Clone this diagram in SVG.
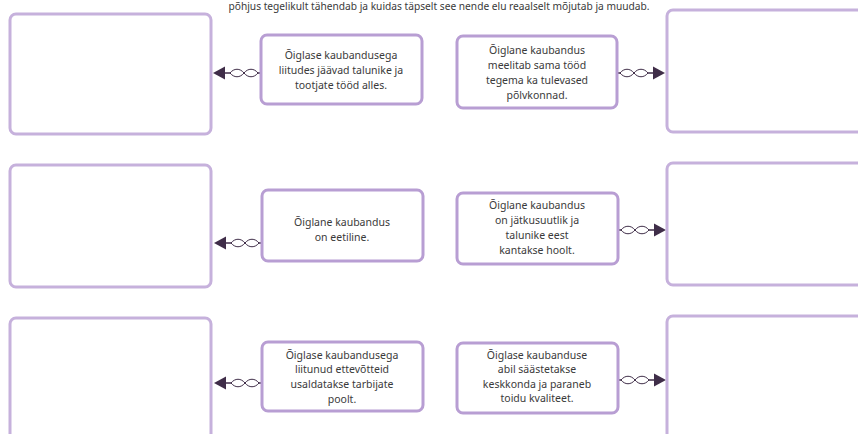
<svg xmlns="http://www.w3.org/2000/svg" width="858" height="434" viewBox="0 0 858 434">
<style>
.big{fill:#fff;stroke:#c6b1dc;stroke-width:3}
.small{fill:#fff;stroke:#b89ed3;stroke-width:3}
.t{font-family:"Noto Sans","Open Sans","DejaVu Sans",sans-serif;font-size:10.5px;fill:#3a3a3a;text-anchor:middle}
.title{font-family:"Noto Sans","Open Sans","DejaVu Sans",sans-serif;font-size:10.2px;fill:#3a3a3a;text-anchor:middle}
.w{fill:none;stroke:#3f2d48;stroke-width:1}
.h{fill:#3f2d48}
</style>
<defs>
<g id="conn">
<path class="w" d="M0,0 L3,0 C7,-5 13,-5 17,0 C21,5 27,5 31,0 L37,0"/>
<path class="w" d="M0,0 L3,0 C7,5 13,5 17,0 C21,-5 27,-5 31,0 L37,0"/>
<polygon class="h" points="36,-6.5 48,0 36,6.5"/>
</g>
</defs>
<text class="title" x="439" y="10">põhjus tegelikult tähendab ja kuidas täpselt see nende elu reaalselt mõjutab ja muudab.</text>
<g id="connectors">
<use href="#conn" transform="translate(261,73) scale(-1,1)"/>
<use href="#conn" transform="translate(617,73)"/>
<use href="#conn" transform="translate(262,243) scale(-1,1)"/>
<use href="#conn" transform="translate(618,230)"/>
<use href="#conn" transform="translate(262,383) scale(-1,1)"/>
<use href="#conn" transform="translate(618,380)"/>
</g>
<g id="box-l1"><rect class="big" x="10" y="14" width="201" height="120" rx="6"/></g>
<g id="box-r1"><rect class="big" x="667" y="10" width="200" height="122" rx="6"/></g>
<g id="box-l2"><rect class="big" x="10" y="165" width="201" height="122" rx="6"/></g>
<g id="box-r2"><rect class="big" x="667" y="163" width="200" height="122" rx="6"/></g>
<g id="box-l3"><rect class="big" x="10" y="318" width="201" height="130" rx="6"/></g>
<g id="box-r3"><rect class="big" x="667" y="316" width="200" height="130" rx="6"/></g>
<g id="node-a">
<rect class="small" x="261" y="35" width="161" height="69" rx="6"/>
<text class="t" x="341" y="59">Õiglase kaubandusega</text>
<text class="t" x="341" y="74">liitudes jäävad talunike ja</text>
<text class="t" x="341" y="89">tootjate tööd alles.</text>
</g>
<g id="node-b">
<rect class="small" x="457" y="36" width="160" height="72" rx="6"/>
<text class="t" x="537" y="53.5">Õiglane kaubandus</text>
<text class="t" x="537" y="68.5">meelitab sama tööd</text>
<text class="t" x="537" y="83.5">tegema ka tulevased</text>
<text class="t" x="537" y="98.5">põlvkonnad.</text>
</g>
<g id="node-c">
<rect class="small" x="262" y="190" width="161" height="71" rx="6"/>
<text class="t" x="342" y="226">Õiglane kaubandus</text>
<text class="t" x="342" y="240.5">on eetiline.</text>
</g>
<g id="node-d">
<rect class="small" x="457" y="193" width="161" height="71" rx="6"/>
<text class="t" x="537" y="208.5">Õiglane kaubandus</text>
<text class="t" x="537" y="223.5">on jätkusuutlik ja</text>
<text class="t" x="537" y="238.5">talunike eest</text>
<text class="t" x="537" y="253.5">kantakse hoolt.</text>
</g>
<g id="node-e">
<rect class="small" x="262" y="342" width="161" height="69" rx="6"/>
<text class="t" x="342" y="358.5">Õiglase kaubandusega</text>
<text class="t" x="342" y="373">liitunud ettevõtteid</text>
<text class="t" x="342" y="388">usaldatakse tarbijate</text>
<text class="t" x="342" y="403">poolt.</text>
</g>
<g id="node-f">
<rect class="small" x="457" y="343" width="161" height="70" rx="6"/>
<text class="t" x="537" y="358.5">Õiglase kaubanduse</text>
<text class="t" x="537" y="373">abil säästetakse</text>
<text class="t" x="537" y="388">keskkonda ja paraneb</text>
<text class="t" x="537" y="402">toidu kvaliteet.</text>
</g>
</svg>
